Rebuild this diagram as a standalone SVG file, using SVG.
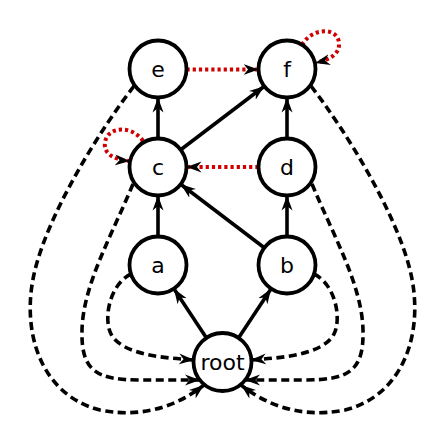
<svg xmlns="http://www.w3.org/2000/svg" width="445" height="445" viewBox="0 0 445 445">
<style>
.node circle{fill:#fff;stroke:#000;stroke-width:3.8}
.node text{font-family:"DejaVu Sans",sans-serif;font-size:22px;text-anchor:middle;dominant-baseline:central;fill:#000}
.solid{fill:none;stroke:#000;stroke-width:3.6;marker-end:url(#ah)}
.dash{fill:none;stroke:#000;stroke-width:3.6;stroke-dasharray:8,4.5;marker-end:url(#ah)}
.dot{fill:none;stroke:#d00000;stroke-width:4;stroke-dasharray:3.2,3;marker-end:url(#ah)}
</style>
<defs>
<marker id="ah" markerUnits="userSpaceOnUse" markerWidth="16" markerHeight="12" refX="15" refY="6" orient="auto">
<path d="M0,0.5 L15,6 L0,11.5 L4.5,6 Z" fill="#000"/>
</marker>
</defs>
<rect width="445" height="445" fill="#fff"/>
<g id="connectors">
<path class="solid" d="M158,138.5 L158,97.5"/>
<path class="solid" d="M287,138.5 L287,97.5"/>
<path class="solid" d="M158,236.5 L158,195.5"/>
<path class="solid" d="M287,236.5 L287,195.5"/>
<path class="solid" d="M206.5,338 L173.9,288.7"/>
<path class="solid" d="M238.5,338 L271.1,288.7"/>
<path class="solid" d="M264.3,247.8 L180.7,184.2"/>
<path class="solid" d="M180.7,149.8 L264.3,86.2"/>
<path class="dot" d="M186.5,69.5 L258.5,69.5"/>
<path class="dot" d="M258.5,167 L186.5,167"/>
<path class="dot" d="M143,141 C132,125 108,126 105,142 C103,155 116,160 130,161"/>
<path class="dot" d="M302,45 C312,27 338,27 339,43 C340,55 328,60 315,63"/>
<path class="dash" d="M131,274 C110,284 103,318 111,334 C122,355 165,358 194,360"/>
<path class="dash" d="M314,274 C335,284 342,318 334,334 C323,355 280,358 251,360"/>
<path class="dash" d="M133,184 C112,235 83,285 82,330 C81,370 95,380 140,380 L200,380"/>
<path class="dash" d="M312,184 C333,235 362,285 363,330 C364,370 350,380 305,380 L245,380"/>
<path class="dash" d="M134,86 C100,130 50,210 35,270 C20,330 40,395 100,410 C150,420 185,400 204,385"/>
<path class="dash" d="M311,86 C345,130 395,210 410,270 C425,330 405,395 345,410 C295,420 260,400 241,385"/>
</g>
<g id="node-e" class="node"><circle cx="158" cy="69" r="28.5"/><text x="158" y="69">e</text></g>
<g id="node-f" class="node"><circle cx="287" cy="69" r="28.5"/><text x="287" y="69">f</text></g>
<g id="node-c" class="node"><circle cx="158" cy="167" r="28.5"/><text x="158" y="167">c</text></g>
<g id="node-d" class="node"><circle cx="287" cy="167" r="28.5"/><text x="287" y="167">d</text></g>
<g id="node-a" class="node"><circle cx="158" cy="265" r="28.5"/><text x="158" y="265">a</text></g>
<g id="node-b" class="node"><circle cx="287" cy="265" r="28.5"/><text x="287" y="265">b</text></g>
<g id="node-root" class="node"><circle cx="222.5" cy="362" r="29"/><text x="222.5" y="362">root</text></g>
</svg>
